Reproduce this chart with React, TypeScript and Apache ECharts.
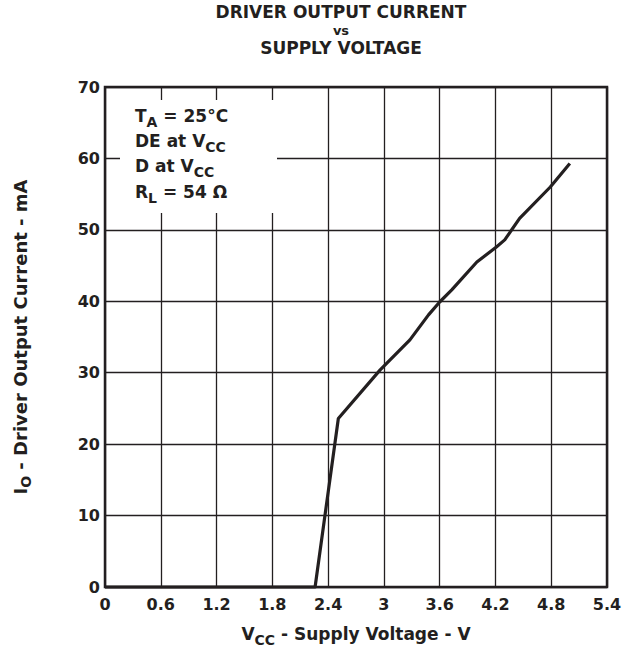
import React, { useEffect, useRef } from "react";
import * as echarts from "echarts";

const voltage = [0, 2.26, 2.51, 2.96, 3.28, 3.48, 3.6, 3.73, 4.0, 4.21, 4.3, 4.46, 4.79, 5.0];
const current = [0, 0, 23.6, 30.4, 34.6, 38.1, 39.9, 41.6, 45.5, 47.6, 48.6, 51.6, 56.0, 59.3];
const xTickLabels = ["0", "0.6", "1.2", "1.8", "2.4", "3", "3.6", "4.2", "4.8", "5.4"];
const yTickLabels = ["0", "10", "20", "30", "40", "50", "60", "70"];
const titleLines = ["DRIVER OUTPUT CURRENT", "vs", "SUPPLY VOLTAGE"];
const conditionLines = [
  "T{sub|A} = 25°C",
  "DE at V{sub|CC}",
  "D at V{sub|CC}",
  "R{sub|L} = 54 Ω",
];

const FONT = "DejaVu Sans";
const INK = "#231f20";

export default function App() {
  const ref = useRef<HTMLDivElement>(null);
  useEffect(() => {
    if (!ref.current) return;
    const chart = echarts.init(ref.current, undefined, { renderer: "svg" });
    const subRich = {
      sub: { fontSize: 14, fontWeight: "bold", fontFamily: FONT, color: INK, lineHeight: 13, verticalAlign: "bottom" },
    };
    chart.setOption({
      animation: false,
      backgroundColor: "#ffffff",
      grid: {
        left: 105,
        top: 87,
        right: 30,
        bottom: 67,
        containLabel: false,
        outerBoundsMode: "none",
        show: true,
        borderColor: INK,
        borderWidth: 2.5,
        backgroundColor: "transparent",
      },
      xAxis: {
        type: "value",
        min: 0,
        max: 5.4,
        interval: 0.6,
        axisLine: { show: false },
        axisTick: { show: false },
        splitLine: { show: true, lineStyle: { color: INK, width: 1.3 } },
        axisLabel: {
          margin: 9,
          fontFamily: FONT,
          fontWeight: "bold",
          fontSize: 16,
          color: INK,
          formatter: (v: number) => xTickLabels[Math.round(v / 0.6)] ?? "",
        },
        name: "V{sub|CC} - Supply Voltage - V",
        nameLocation: "middle",
        nameGap: 34,
        nameTextStyle: {
          fontFamily: FONT,
          fontWeight: "bold",
          fontSize: 17,
          color: INK,
          lineHeight: 26,
          rich: subRich,
        },
      },
      yAxis: {
        type: "value",
        min: 0,
        max: 70,
        interval: 10,
        axisLine: { show: false },
        axisTick: { show: false },
        splitLine: { show: true, lineStyle: { color: INK, width: 1.3 } },
        axisLabel: {
          margin: 5,
          fontFamily: FONT,
          fontWeight: "bold",
          fontSize: 16,
          color: INK,
          formatter: (v: number) => yTickLabels[Math.round(v / 10)] ?? "",
        },
        name: "I{sub|O} - Driver Output Current - mA",
        nameLocation: "middle",
        nameGap: 72,
        nameTextStyle: {
          fontFamily: FONT,
          fontWeight: "bold",
          fontSize: 18,
          color: INK,
          lineHeight: 26,
          rich: subRich,
        },
      },
      graphic: [
        {
          type: "text",
          z: 100,
          style: {
            text: `{a|${titleLines[0]}}\n{b|${titleLines[1]}}\n{a|${titleLines[2]}}`,
            x: 341,
            y: 3,
            align: "center",
            verticalAlign: "top",
            fontFamily: FONT,
            fontWeight: "bold",
            fontSize: 17,
            fill: INK,
            lineHeight: 18,
            rich: {
              a: { fontFamily: FONT, fontWeight: "bold", fontSize: 17, fill: INK, lineHeight: 18, align: "center" },
              b: { fontFamily: FONT, fontWeight: "bold", fontSize: 13, fill: INK, lineHeight: 18, align: "center" },
            },
          },
        },
        {
          type: "rect",
          z: 100,
          shape: { x: 120, y: 100, width: 157, height: 113 },
          style: { fill: "#ffffff" },
        },
        ...conditionLines.map((t, i) => ({
          type: "text",
          z: 101,
          style: {
            text: t,
            x: 135,
            y: 116 + i * 25.2,
            align: "left",
            verticalAlign: "middle",
            fontFamily: FONT,
            fontWeight: "bold",
            fontSize: 17,
            fill: INK,
            lineHeight: 26,
            rich: {
              sub: { fontSize: 14, fontWeight: "bold", fontFamily: FONT, fill: INK, lineHeight: 13, verticalAlign: "bottom" },
            },
          },
        })),
      ],
      series: [
        {
          type: "line",
          data: voltage.map((v, i) => [v, current[i]]),
          symbol: "none",
          clip: false,
          z: 10,
          lineStyle: { color: INK, width: 3.2, join: "round" },
        },
      ],
    });
    return () => chart.dispose();
  }, []);
  return <div ref={ref} style={{ width: 637, height: 654, position: "absolute", left: 0, top: 0 }} />;
}
